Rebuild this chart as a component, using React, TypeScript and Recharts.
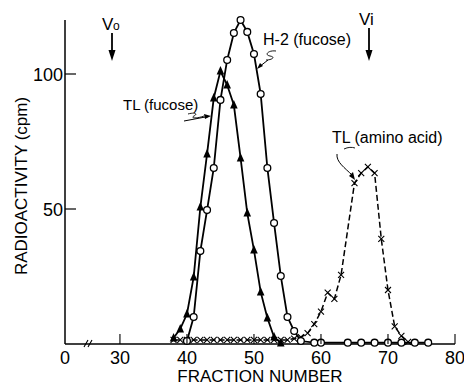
import { LineChart, Line, XAxis, YAxis } from 'recharts';

// H-2 (fucose), open circles
const h2Fraction = [40, 41, 42, 43, 44, 45, 46, 47, 48, 49, 50, 51, 52, 53, 54, 55, 56, 57, 59, 60, 64, 66, 68, 70, 72, 74, 76];
const h2Cpm = [1.1, 10, 34.4, 49.6, 65.2, 90.4, 105.2, 115.2, 120, 115.6, 107.4, 92.6, 65.2, 44.8, 25.2, 10, 4.8, 1.1, 0.5, 0.5, 0.5, 0.5, 0.5, 0.5, 0.5, 0.5, 0.5];

// TL (fucose), filled triangles
const tlFucFraction = [38, 39, 40, 41, 42, 43, 44, 45, 46, 47, 48, 49, 50, 51, 52, 53, 54];
const tlFucCpm = [2.2, 5.6, 11.1, 24.8, 50.7, 70.4, 91.1, 101.1, 95.9, 88.5, 68.9, 48.5, 34.8, 19.3, 9.6, 2.6, 0.4];

// TL (amino acid), crosses, dashed
const tlAaFraction = [38, 39, 40, 41, 42, 43, 44, 45, 46, 47, 48, 49, 50, 51, 52, 53, 54, 55, 56, 57, 58, 59, 60, 61, 62, 63, 65, 66, 67, 68, 69, 70, 71, 72, 73];
const tlAaCpm = [1.5, 1.5, 1.5, 1.5, 1.5, 1.5, 1.5, 1.5, 1.5, 1.5, 1.5, 1.5, 1.5, 1.5, 1.5, 1.5, 1.5, 1.5, 2, 2.5, 4, 7.4, 12, 19, 16.7, 25.6, 59.6, 63.3, 65.6, 63.3, 38.9, 20, 6.5, 3, 0.8];

// axis is broken: the origin "0" sits at 21.8 on the fraction scale
const xOrigin = 21.8;
const xTicks = [xOrigin, 30, 40, 50, 60, 70, 80];
const yTicks = [50, 100];

const h2Data = h2Fraction.map((f, i) => ({ fraction: f, cpm: h2Cpm[i] }));
const tlFucData = tlFucFraction.map((f, i) => ({ fraction: f, cpm: tlFucCpm[i] }));
const tlAaData = tlAaFraction.map((f, i) => ({ fraction: f, cpm: tlAaCpm[i] }));

const FONT = '"Liberation Sans", Arial, sans-serif';

const CircleDot = (props: any) => {
    const { cx, cy, index } = props;
    return <circle key={'c' + index} cx={cx} cy={cy} r={3.4} fill="#fff" stroke="#000" strokeWidth={1.3} />;
};

const TriangleDot = (props: any) => {
    const { cx, cy, index } = props;
    return (
        <path
            key={'t' + index}
            d={`M${cx},${cy - 5} L${cx + 3.8},${cy + 3.5} L${cx - 3.8},${cy + 3.5} Z`}
            fill="#000"
        />
    );
};

const CrossDot = (props: any) => {
    const { cx, cy, index } = props;
    return (
        <path
            key={'x' + index}
            d={`M${cx - 3},${cy - 3} L${cx + 3},${cy + 3} M${cx - 3},${cy + 3} L${cx + 3},${cy - 3}`}
            stroke="#000"
            strokeWidth={1.1}
        />
    );
};

const YTick = (props: any) => {
    const { x, y, payload } = props;
    return (
        <g>
            <line x1={x + 2} y1={y} x2={x + 13} y2={y} stroke="#000" strokeWidth={1.2} />
            <text x={x} y={y + 6.5} textAnchor="end" fontSize={18} fontFamily={FONT} fill="#000">
                {payload.value}
            </text>
        </g>
    );
};

const XTick = (props: any) => {
    const { x, y, payload } = props;
    const isOrigin = payload.value === xOrigin;
    return (
        <g>
            {!isOrigin && <line x1={x} y1={y} x2={x} y2={y - 10} stroke="#000" strokeWidth={1.1} />}
            <text x={x} y={y + 20} textAnchor="middle" fontSize={18} fontFamily={FONT} fill="#000">
                {isOrigin ? '0' : payload.value}
            </text>
        </g>
    );
};

export default function App() {
    return (
        <div style={{ position: 'absolute', left: 0, top: 0, width: 464, height: 388, background: '#fff' }}>
            <LineChart width={464} height={388} margin={{ top: 20, right: 9, bottom: 0, left: 0 }}>
                <XAxis
                    type="number"
                    dataKey="fraction"
                    domain={[xOrigin, 80]}
                    ticks={xTicks}
                    allowDataOverflow
                    height={44}
                    tickSize={0}
                    tickMargin={0}
                    tick={<XTick />}
                    axisLine={{ stroke: '#000', strokeWidth: 1.5 }}
                />
                <YAxis
                    type="number"
                    domain={[0, 120]}
                    ticks={yTicks}
                    width={65}
                    tickSize={0}
                    tickMargin={2}
                    tick={<YTick />}
                    axisLine={{ stroke: '#000', strokeWidth: 1.5 }}
                />
                <Line
                    data={tlAaData}
                    dataKey="cpm"
                    type="linear"
                    stroke="#000"
                    strokeWidth={1.5}
                    strokeDasharray="6 3"
                    dot={CrossDot}
                    activeDot={false}
                    isAnimationActive={false}
                />
                <Line
                    data={tlFucData}
                    dataKey="cpm"
                    type="linear"
                    stroke="#000"
                    strokeWidth={1.8}
                    dot={TriangleDot}
                    activeDot={false}
                    isAnimationActive={false}
                />
                <Line
                    data={h2Data}
                    dataKey="cpm"
                    type="linear"
                    stroke="#000"
                    strokeWidth={1.8}
                    dot={CircleDot}
                    activeDot={false}
                    isAnimationActive={false}
                />
            </LineChart>
            <svg
                width={464}
                height={388}
                style={{ position: 'absolute', left: 0, top: 0, pointerEvents: 'none' }}
                fontFamily={FONT}
            >
                {/* axis titles */}
                <text x={260} y={382} textAnchor="middle" fontSize={17} fill="#000">FRACTION NUMBER</text>
                <text
                    x={27}
                    y={186}
                    textAnchor="middle"
                    fontSize={17}
                    fill="#000"
                    transform="rotate(-90 27 186)"
                >
                    RADIOACTIVITY (cpm)
                </text>

                {/* axis break */}
                <path d="M84,347 L88,340 M88,347 L92,340" stroke="#000" strokeWidth={1.1} fill="none" />

                {/* Vo marker */}
                <text x={102} y={30} fontSize={17} fill="#000">V</text>
                <text x={113} y={30} fontSize={12} fill="#000">o</text>
                <line x1={112} y1={33} x2={112} y2={52} stroke="#000" strokeWidth={1.8} />
                <path d="M108.5,50 L115.5,50 L112,61 Z" fill="#000" />

                {/* Vi marker */}
                <text x={359} y={25} fontSize={17} fill="#000">Vi</text>
                <line x1={369} y1={28} x2={369} y2={52} stroke="#000" strokeWidth={1.8} />
                <path d="M365.5,50 L372.5,50 L369,61 Z" fill="#000" />

                {/* series labels */}
                <text x={263} y={45} fontSize={16} fill="#000">H-2 (fucose)</text>
                <path d="M276,51 C268,50 264,55 270,56 C276,57 272,60 266,60" stroke="#000" strokeWidth={0.9} fill="none" />
                <line x1={268} y1={60} x2={259} y2={67} stroke="#000" strokeWidth={1} />
                <path d="M257,69 L263,66 L260,63 Z" fill="#000" />

                <text x={123} y={110} fontSize={15} fill="#000">TL (fucose)</text>
                <path d="M188,114 C195,112 198,114 194,116 C190,118 196,119 204,116" stroke="#000" strokeWidth={0.9} fill="none" />
                <line x1={184} y1={121} x2={208} y2={116.5} stroke="#000" strokeWidth={1} />
                <path d="M211,116 L204,114 L205,119 Z" fill="#000" />

                <text x={332} y={143} fontSize={16} fill="#000">TL (amino acid)</text>
                <path d="M344,149 C348,147 352,147 355,148" stroke="#000" strokeWidth={0.9} fill="none" />
                <path d="M337,154 C336,162 345,168 352,175" stroke="#000" strokeWidth={1} fill="none" />
                <path d="M355,180 L349,176 L353,172 Z" fill="#000" />
            </svg>
        </div>
    );
}
